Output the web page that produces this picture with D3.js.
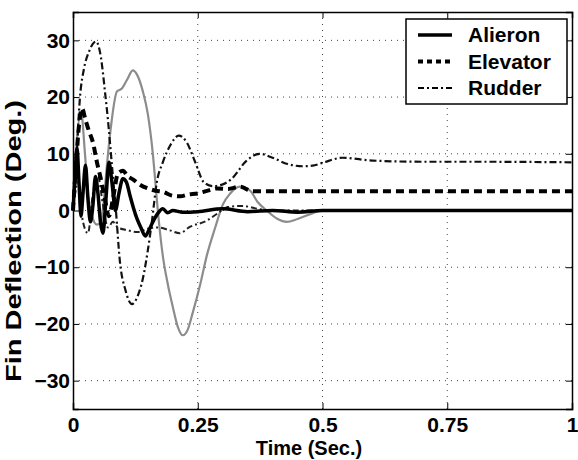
<!DOCTYPE html>
<meta charset="utf-8">
<script src="https://d3js.org/d3.v7.min.js"></script>
<style>
  body { margin: 0; background: #fff; }
  text { font-family: "Liberation Sans", Arial, Helvetica, sans-serif; font-weight: bold; }
</style>
<div id="my_dataviz"></div>
<script>

// tick values
var xTicks = [0, 0.25, 0.5, 0.75, 1];
var yTicks = [-30, -20, -10, 0, 10, 20, 30];

// legend entries
var legendNames = ["Alieron", "Elevator", "Rudder"];

// Aileron (thick solid)
var aileronT = [0, .004, .008, .012, .016, .02, .025, .03, .035, .04, .045, .05, .055, .06, .066, .072, .078, .085, .092, .1, .107, .114, .121, .128, .136, .145, .152, .16, .17, .18, .19, .2, .22, .25, .3, .35, .4, .45, .5, .6, .8, 1];
var aileronV = [0, 6, 11, 5, -1, 3, 8, 2, -2, 1, 6, 3, -2, -4, 2, 8.5, 5, 0, 3, 5.6, 5, 2.7, 0.5, -1.4, -3, -4.5, -3.5, -2, -0.5, 0.3, -0.4, 0, -0.3, -0.2, 0.3, -0.2, 0, -0.3, 0, 0, 0, 0];

// second aileron run (thin grey)
var aileron2T = [0, .006, .016, .024, .03, .038, .048, .056, .062, .068, .075, .088, .098, .108, .12, .128, .14, .15, .16, .167, .17, .18, .19, .2, .21, .22, .23, .24, .255, .268, .285, .3, .315, .334, .355, .37, .388, .41, .428, .45, .48, .5, .6, 1];
var aileron2V = [0, 10, 17.5, 10, 3, -1, -2.5, -2, 2, 8, 14, 21, 21.5, 23, 24.7, 24, 21, 17, 10, 3, 0, -8, -13, -17, -20.5, -22, -21, -18, -13, -8, -3, 1, 3, 4.2, 3.5, 1.5, 0, -1.5, -2, -1.5, -0.5, 0, 0, 0];

// Elevator (thick dashed)
var elevatorT = [0, .006, .012, .018, .025, .032, .04, .048, .056, .064, .072, .08, .09, .1, .11, .12, .135, .15, .165, .18, .2, .215, .23, .25, .27, .29, .31, .334, .36, .4, .5, 1];
var elevatorV = [0, 8, 15, 18, 16, 14, 12, 8.5, 5.5, 2, -1, 2, 6.5, 7, 6, 5.5, 4.5, 3.9, 3.5, 3.3, 2.6, 2.5, 2.8, 3, 3.5, 3.9, 3.8, 4.2, 3.4, 3.4, 3.4, 3.4];

// Rudder (dash-dot)
var rudderT = [0, .005, .014, .022, .032, .046, .056, .064, .07, .078, .086, .094, .105, .118, .13, .14, .15, .158, .168, .18, .195, .212, .228, .245, .262, .28, .3, .318, .348, .374, .4, .43, .46, .48, .5, .54, .6, .7, .8, 1];
var rudderV = [0, 6, 20, 25, 28, 29.8, 27, 21, 16, 8, 0, -9, -14, -16.5, -15, -12, -7, -2, 5, 8.5, 11.5, 13.2, 12, 8.5, 5, 4.3, 4.6, 5.6, 8.8, 10, 9.3, 8.2, 7.8, 7.9, 8.4, 9.3, 8.8, 8.6, 8.6, 8.5];

// second rudder run (thin dash-dot)
var rudder2T = [0, .01, .02, .03, .04, .05, .06, .07, .08, .09, .11, .13, .15, .17, .194, .214, .234, .268, .29, .31, .34, .37, .4, .5, 1];
var rudder2V = [0, 5, -2, -4, 3, 6, 1, -3, -2, -3, -3.5, -3.8, -3.2, -3, -3.5, -4, -2.9, -1.8, -0.5, 0.6, 0.8, 0.3, 0, 0, 0];

var margin = {top: 12, right: 6, bottom: 51, left: 73},
    width = 578 - margin.left - margin.right,
    height = 460 - margin.top - margin.bottom;

var svg = d3.select("#my_dataviz")
  .append("svg")
    .attr("width", 578)
    .attr("height", 460)
  .append("g")
    .attr("transform", "translate(" + margin.left + "," + margin.top + ")");

var x = d3.scaleLinear().domain([0, 1]).range([0, width]);
var y = d3.scaleLinear().domain([-35, 35]).range([height, 0]);

// dotted grid
svg.append("g").selectAll("line")
  .data(xTicks.slice(1, -1))
  .enter().append("line")
    .attr("x1", function(d) { return x(d); })
    .attr("x2", function(d) { return x(d); })
    .attr("y1", 0).attr("y2", height)
    .attr("stroke", "#444").attr("stroke-width", 1)
    .attr("stroke-dasharray", "1,5");
svg.append("g").selectAll("line")
  .data(yTicks)
  .enter().append("line")
    .attr("y1", function(d) { return y(d); })
    .attr("y2", function(d) { return y(d); })
    .attr("x1", 0).attr("x2", width)
    .attr("stroke", "#444").attr("stroke-width", 1)
    .attr("stroke-dasharray", "1,5");

// lines
function pts(t, v) { return t.map(function(d, i) { return [d, v[i]]; }); }
var line = d3.line()
  .x(function(d) { return x(d[0]); })
  .y(function(d) { return y(d[1]); })
  .curve(d3.curveMonotoneX);

svg.append("path").datum(pts(aileron2T, aileron2V))
  .attr("fill", "none").attr("stroke", "#8c8c8c").attr("stroke-width", 2.2)
  .attr("d", line);
svg.append("path").datum(pts(rudderT, rudderV))
  .attr("fill", "none").attr("stroke", "#111").attr("stroke-width", 2.2)
  .attr("stroke-dasharray", "7,3,2,3")
  .attr("d", line);
svg.append("path").datum(pts(rudder2T, rudder2V))
  .attr("fill", "none").attr("stroke", "#222").attr("stroke-width", 2)
  .attr("stroke-dasharray", "6,3,2,3")
  .attr("d", line);
svg.append("path").datum(pts(elevatorT, elevatorV))
  .attr("fill", "none").attr("stroke", "#000").attr("stroke-width", 4)
  .attr("stroke-dasharray", "8,5")
  .attr("d", line);
svg.append("path").datum(pts(aileronT, aileronV))
  .attr("fill", "none").attr("stroke", "#000").attr("stroke-width", 3.5)
  .attr("d", line);

// axes, ticks pointing inward, mirrored on top/right
svg.append("g")
  .attr("transform", "translate(0," + height + ")")
  .call(d3.axisBottom(x).tickValues(xTicks).tickSize(-6).tickPadding(8)
    .tickFormat(function(d) { return String(d); }));
svg.append("g")
  .call(d3.axisLeft(y).tickValues(yTicks).tickSize(-6).tickPadding(3)
    .tickFormat(d3.format("d")));
svg.append("g")
  .call(d3.axisTop(x).tickValues(xTicks).tickSize(-6).tickFormat(""));
svg.append("g")
  .attr("transform", "translate(" + width + ",0)")
  .call(d3.axisRight(y).tickValues(yTicks).tickSize(-6).tickFormat(""));

svg.selectAll(".domain").attr("stroke", "#000").attr("stroke-width", 1.5);
svg.selectAll(".tick line").attr("stroke", "#000");
svg.selectAll(".tick text").style("font-size", "21px").attr("fill", "#000");

svg.append("text")      // X axis label
  .attr("x", 236)
  .attr("y", 443)
  .style("text-anchor", "middle")
  .style("font-size", "20px")
  .text("Time (Sec.)");

svg.append("text")      // Y axis label
  .attr("transform", "rotate(-90)")
  .attr("x", -229)
  .attr("y", -52)
  .style("text-anchor", "middle")
  .style("font-size", "22px")
  .attr("textLength", 282)
  .attr("lengthAdjust", "spacingAndGlyphs")
  .text("Fin Deflection (Deg.)");

// legend
var lg = svg.append("g").attr("transform", "translate(333,7)");
lg.append("rect")
  .attr("width", 161).attr("height", 85)
  .attr("fill", "#fff").attr("stroke", "#000").attr("stroke-width", 1.5);
var styles = [
  {dash: null, w: 3.5},
  {dash: "5,4", w: 4},
  {dash: "6,3,2,3", w: 2.2}
];
legendNames.forEach(function(name, i) {
  var cy = 16 + i * 26.5;
  lg.append("line")
    .attr("x1", 12).attr("x2", 46)
    .attr("y1", cy).attr("y2", cy)
    .attr("stroke", "#000").attr("stroke-width", styles[i].w)
    .attr("stroke-dasharray", styles[i].dash);
  lg.append("text")
    .attr("x", 62).attr("y", cy + 7)
    .style("font-size", "21px")
    .text(name);
});

</script>
